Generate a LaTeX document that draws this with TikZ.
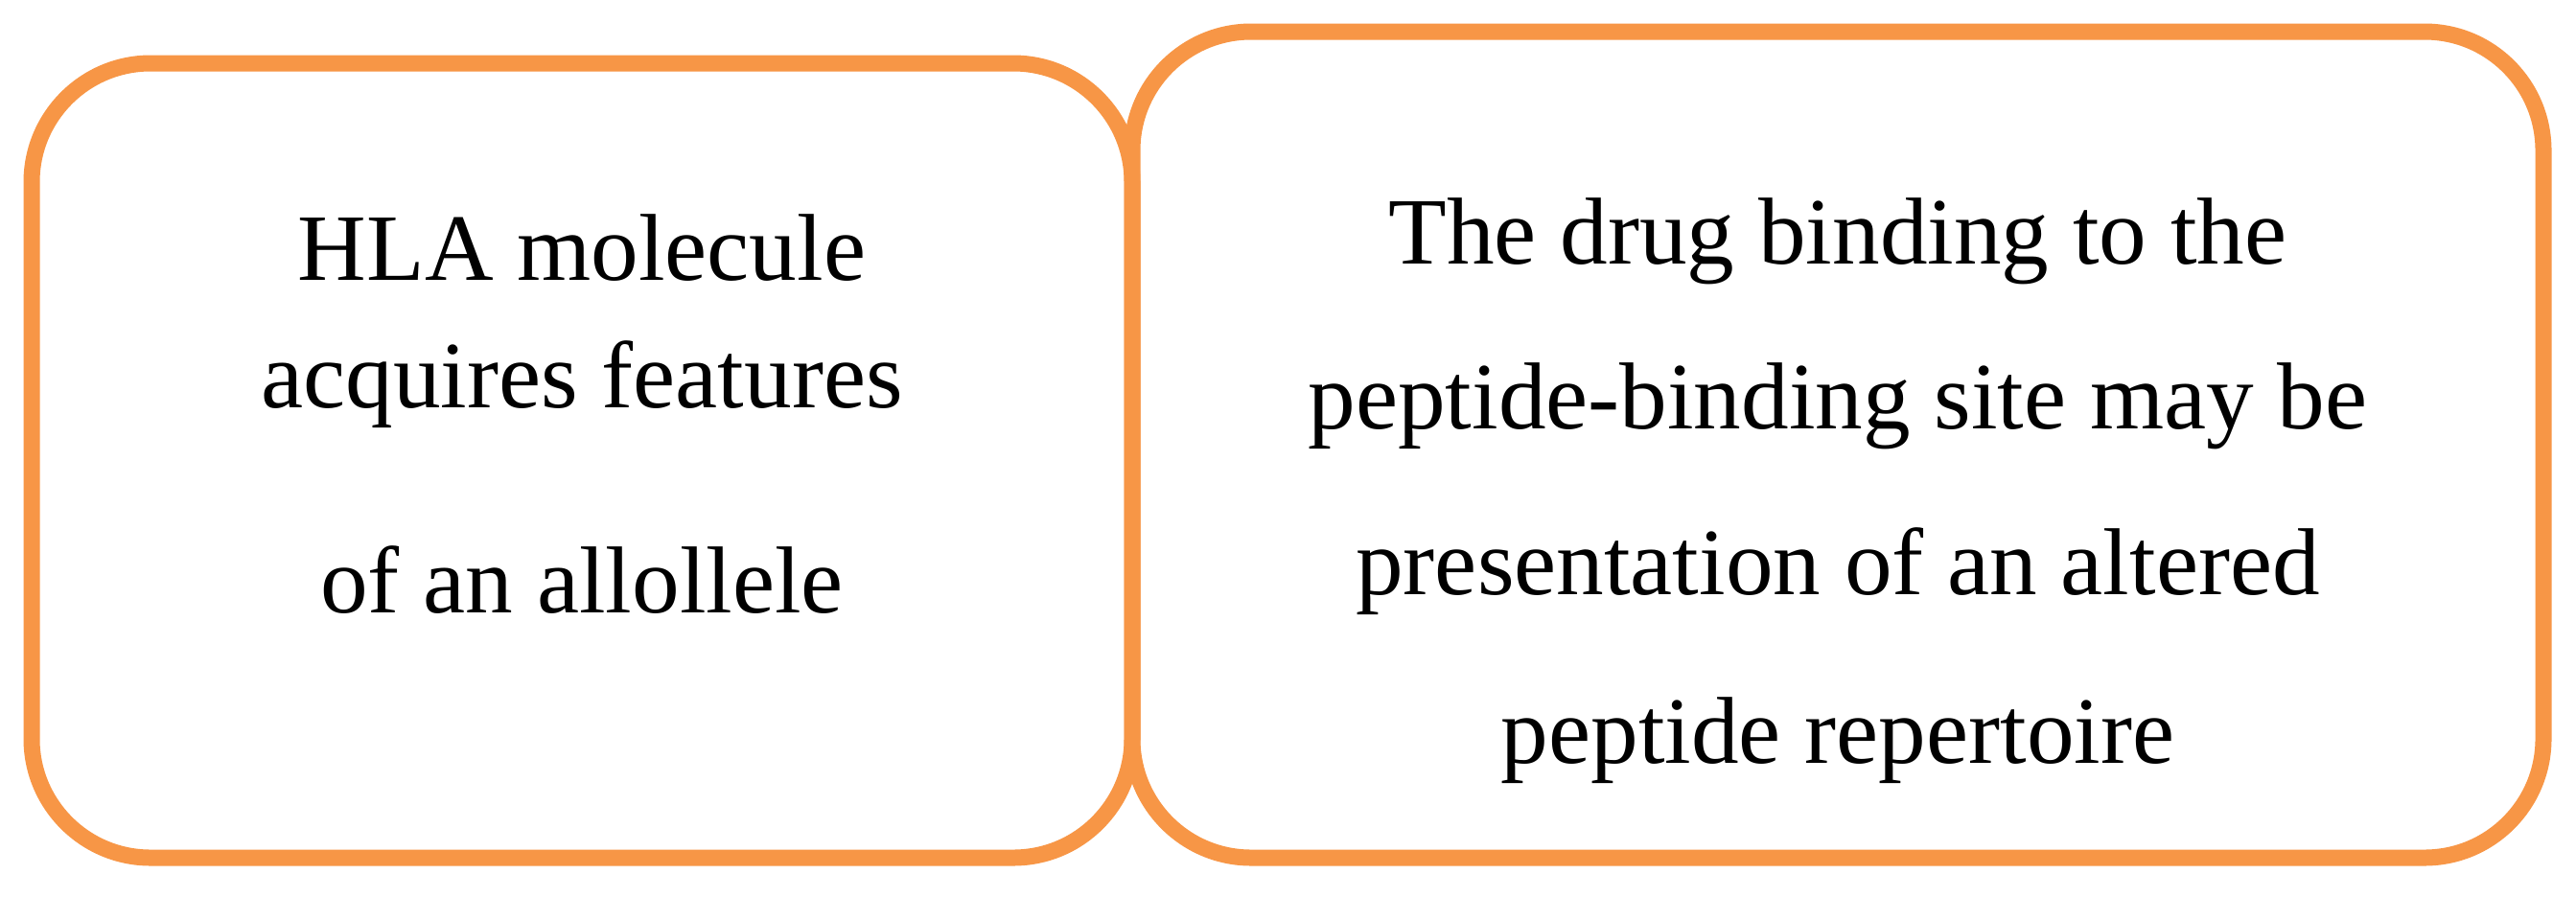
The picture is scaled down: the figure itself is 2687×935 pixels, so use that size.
\documentclass[tikz,border=0pt]{standalone}
\usepackage{fontspec}
\setmainfont{Liberation Serif}
\definecolor{boxorange}{RGB}{247,150,70}
\begin{document}
\begin{tikzpicture}[x=0.25pt,y=-0.25pt,
  box/.style={draw=boxorange,line width=4.25pt,rounded corners=31pt,inner sep=0pt},
  txt/.style={anchor=base,inner sep=0pt,font=\fontsize{24.8}{30}\selectfont}]
\fill[white] (0,0) rectangle (2687,935);
\useasboundingbox (0,0) rectangle (2687,935);
\node[box,minimum width=287pt,minimum height=207.25pt] (leftbox) at (607,480.5) {};
\node[box,minimum width=368pt,minimum height=215.5pt] (rightbox) at (1917,464) {};
\node[txt] (l1) at (607,292) {HLA molecule};
\node[txt] (l2) at (607,425) {acquires features};
\node[txt] (l3) at (607,639) {of an allollele};
\node[txt] (r1) at (1917,275) {The drug binding to the};
\node[txt] (r2) at (1917,447) {peptide-binding site may be};
\node[txt] (r3) at (1917,620) {presentation of an altered};
\node[txt] (r4) at (1917,796) {peptide repertoire};
\end{tikzpicture}
\end{document}
